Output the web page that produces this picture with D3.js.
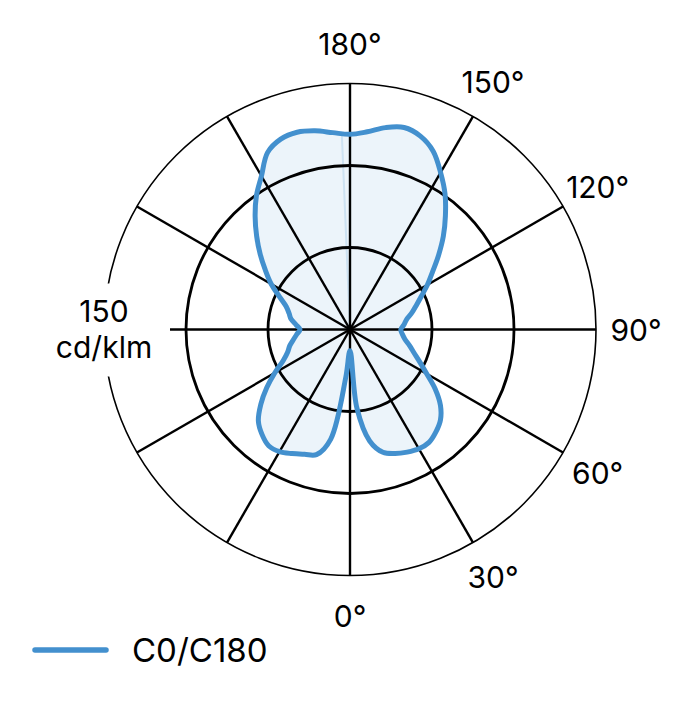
<!DOCTYPE html>
<html>
<head>
<meta charset="utf-8">
<script src="https://cdn.jsdelivr.net/npm/d3@7"></script>
<style>
  body { margin: 0; background: #fff; }
  text { font-family: Inter, "Liberation Sans", sans-serif; fill: #000; }
</style>
</head>
<body>
<div id="chart"></div>
<script>
// gamma angles (deg) of the measured intensities
const gammas = [0, 5, 10, 15, 20, 25, 30, 35, 40, 45, 50, 55, 60, 65, 70, 75, 80, 85, 90,
    95, 100, 105, 110, 115, 120, 125, 130, 135, 140, 145, 150, 155, 160, 165, 170, 175, 180];

// cd/klm, C0 plane (right half)
const c0Values = [13, 48, 69, 77.5, 80.5, 82.5, 84, 84, 81.5, 78, 72, 63.5, 54, 47, 41.5, 37.5, 34, 32, 31,
    33, 35, 39, 43, 48, 54.5, 61.5, 70.5, 80.5, 90.5, 101, 110.5, 120, 125.5, 127.5, 125, 121, 119];

// cd/klm, C180 plane (left half)
const c180Values = [13, 29, 68, 79, 81, 83.5, 86, 86.5, 83.5, 79, 71, 62, 53, 45, 40.5, 38, 35, 32.5, 30.5,
    33, 36.5, 38.5, 41.5, 47.5, 55.5, 63, 71.5, 80.5, 90, 99.5, 108, 119, 123.5, 124.5, 123, 120.5, 119];

const ringValues = [50, 100, 150];
const spokeAngles = [0, 30, 60, 90, 120, 150, 180, 210, 240, 270, 300, 330];
const tickGammas = [0, 30, 60, 90, 120, 150, 180];
const tickLabels = ['0°', '30°', '60°', '90°', '120°', '150°', '180°'];
const scaleLabel = ['150', 'cd/klm'];
const seriesName = 'C0/C180';

const width = 680, height = 720;
const cx = 350, cy = 329.5, R = 246;
const blue = '#4390ce';
const rad = (deg) => deg * Math.PI / 180;

const r = d3.scaleLinear().domain([0, 150]).range([0, R]);

const svg = d3.select('#chart').append('svg')
    .attr('width', width)
    .attr('height', height);

const g = svg.append('g')
    .attr('transform', 'translate(' + cx + ',' + cy + ')');

// C0 goes down the right side, C180 comes back up the left
const points = gammas.map((gm, i) => [rad(180 - gm), r(c0Values[i])])
    .concat(gammas.slice(1, -1).reverse().map((gm) => [rad(180 + gm), r(c180Values[gammas.indexOf(gm)])]));

const curve = d3.lineRadial()
    .curve(d3.curveCatmullRomClosed.alpha(0.5));

g.append('path')
    .attr('d', curve(points))
    .attr('fill', blue)
    .attr('fill-opacity', 0.1)
    .attr('stroke', 'none');

// faint seam left by the fill near 180°
g.append('path')
    .attr('d', d3.lineRadial()([[0, 0], [rad(357.6), r(c180Values[c180Values.length - 1])]]))
    .attr('stroke', blue)
    .attr('stroke-opacity', 0.18)
    .attr('stroke-width', 2);

// grid
g.selectAll('.ring')
    .data(ringValues)
    .enter().append('circle')
    .attr('r', (d) => r(d))
    .attr('fill', 'none')
    .attr('stroke', '#000')
    .attr('stroke-width', (d) => d === 150 ? 1.6 : 2.8);

g.selectAll('.spoke')
    .data(spokeAngles)
    .enter().append('line')
    .attr('x2', (d) => r(150) * Math.sin(rad(d)))
    .attr('y2', (d) => -r(150) * Math.cos(rad(d)))
    .attr('stroke', '#000')
    .attr('stroke-width', 2.4);

// curve outline
g.append('path')
    .attr('d', curve(points))
    .attr('fill', 'none')
    .attr('stroke', blue)
    .attr('stroke-width', 5)
    .attr('stroke-linejoin', 'round');

// angle labels on the right
const labelR = R + 40;
g.selectAll('.tick')
    .data(tickGammas)
    .enter().append('text')
    .attr('x', (d) => labelR * Math.sin(rad(180 - d)))
    .attr('y', (d) => -labelR * Math.cos(rad(180 - d)) + 11)
    .attr('text-anchor', 'middle')
    .style('font-size', '30px')
    .text((d, i) => tickLabels[i]);

// scale label on the outer ring, left
const sl = g.append('g')
    .attr('transform', 'translate(' + (-r(150)) + ',0)');
sl.append('rect')
    .attr('x', -66)
    .attr('y', -46)
    .attr('width', 132)
    .attr('height', 93)
    .attr('fill', '#fff');
sl.selectAll('text')
    .data(scaleLabel)
    .enter().append('text')
    .attr('x', 0)
    .attr('y', (d, i) => i === 0 ? -7.5 : 28.5)
    .attr('text-anchor', 'middle')
    .style('font-size', '30px')
    .text((d) => d);

// legend
const legend = svg.append('g')
    .attr('transform', 'translate(35,650)');
legend.append('line')
    .attr('x1', 0)
    .attr('x2', 71)
    .attr('stroke', blue)
    .attr('stroke-width', 5.5)
    .attr('stroke-linecap', 'round');
legend.append('text')
    .attr('x', 97)
    .attr('y', 12)
    .style('font-size', '33px')
    .text(seriesName);
</script>
</body>
</html>
